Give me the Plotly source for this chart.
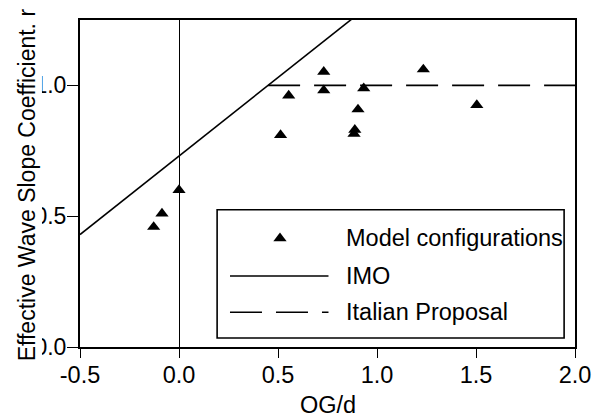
import plotly.graph_objects as go

# ---- data ----
model_og_d = [-0.128, -0.086, 0.0, 0.513, 0.554, 0.731, 0.731, 0.884, 0.888, 0.904, 0.933, 1.234, 1.504]
model_r    = [0.459, 0.510, 0.600, 0.810, 0.961, 1.052, 0.981, 0.815, 0.830, 0.908, 0.989, 1.061, 0.925]

imo_og_d = [-0.5, 1.0]
imo_r    = [0.43, 1.33]

italian_og_d = [0.45, 2.0]
italian_r    = [1.0, 1.0]

x_ticks = [-0.5, 0.0, 0.5, 1.0, 1.5, 2.0]
y_ticks = [0.0, 0.5, 1.0]

legend_labels = ["Model configurations", "IMO", "Italian Proposal"]

FONT = "Arial, Liberation Sans, sans-serif"
FS = 23.5
DASH = "32px,14px"

fig = go.Figure()

fig.add_trace(go.Scatter(x=imo_og_d, y=imo_r, mode="lines",
                         line=dict(color="black", width=1.6), showlegend=False))
fig.add_trace(go.Scatter(x=italian_og_d, y=italian_r, mode="lines",
                         line=dict(color="black", width=1.6, dash=DASH), showlegend=False))
fig.add_trace(go.Scatter(x=model_og_d, y=model_r, mode="markers",
                         marker=dict(symbol="triangle-up", size=11.5, color="black"),
                         showlegend=False, cliponaxis=False))

# legend marker on an overlay axis in [0,1] x [0,1] (paper-like)
fig.add_trace(go.Scatter(x=[0.404], y=[0.3325], mode="markers", xaxis="x2", yaxis="y2",
                         marker=dict(symbol="triangle-up", size=11.5, color="black"),
                         showlegend=False))

fig.update_layout(
    width=602, height=418,
    margin=dict(l=80, r=27, t=20, b=71),
    paper_bgcolor="white", plot_bgcolor="white",
    font=dict(family=FONT, size=FS, color="black"),
    xaxis=dict(range=[-0.5, 2.0], tickvals=x_ticks, ticktext=[f"{v:.1f}" for v in x_ticks],
               ticks="outside", ticklen=9, tickwidth=1.2, tickcolor="black",
               ticklabelstandoff=-3, tickfont=dict(size=23.5),
               showline=True, linecolor="black", linewidth=2, mirror=True,
               showgrid=False, zeroline=True, zerolinecolor="black", zerolinewidth=1.2),
    yaxis=dict(range=[0, 1.25], tickvals=y_ticks, ticktext=[f"{v:.1f}" for v in y_ticks],
               ticks="outside", ticklen=11, tickwidth=1.2, tickcolor="black",
               ticklabelstandoff=-4, tickfont=dict(size=23),
               showline=True, linecolor="black", linewidth=2, mirror=True,
               showgrid=False, zeroline=False),
    xaxis2=dict(range=[0, 1], overlaying="x", visible=False),
    yaxis2=dict(range=[0, 1], overlaying="y", visible=False),
)

shapes = [
    # white mask clipping the left part of the y tick labels (as in the reference)
    dict(type="rect", xref="paper", yref="paper", x0=-0.17, x1=-0.0768, y0=-0.12, y1=1.05,
         fillcolor="white", line=dict(width=0), layer="above"),
    # legend box
    dict(type="rect", xref="paper", yref="paper", x0=0.277, x1=0.978, y0=0.0275, y1=0.4196,
         fillcolor="rgba(0,0,0,0)", line=dict(color="black", width=1.6), layer="above"),
    # legend line samples
    dict(type="line", xref="paper", yref="paper", x0=0.303, x1=0.502, y0=0.217, y1=0.217,
         line=dict(color="black", width=1.6), layer="above"),
    dict(type="line", xref="paper", yref="paper", x0=0.303, x1=0.502, y0=0.1063, y1=0.1063,
         line=dict(color="black", width=1.6, dash=DASH), layer="above"),
]
fig.update_layout(shapes=shapes)

annotations = [
    dict(text="OG/d", xref="paper", yref="paper", x=0.5, y=-0.176, showarrow=False,
         xanchor="center", yanchor="middle", font=dict(size=FS)),
    dict(text="Effective Wave Slope Coefficient. r", xref="paper", yref="paper",
         x=-0.108, y=0.496, textangle=-90, showarrow=False,
         xanchor="center", yanchor="middle", font=dict(size=23)),
]
for lbl, yy in zip(legend_labels, [0.3325, 0.217, 0.1063]):
    annotations.append(dict(text=lbl, xref="paper", yref="paper", x=0.533, y=yy,
                            showarrow=False, xanchor="left", yanchor="middle",
                            font=dict(size=23.5)))
fig.update_layout(annotations=annotations)

fig.write_html("out.html")
